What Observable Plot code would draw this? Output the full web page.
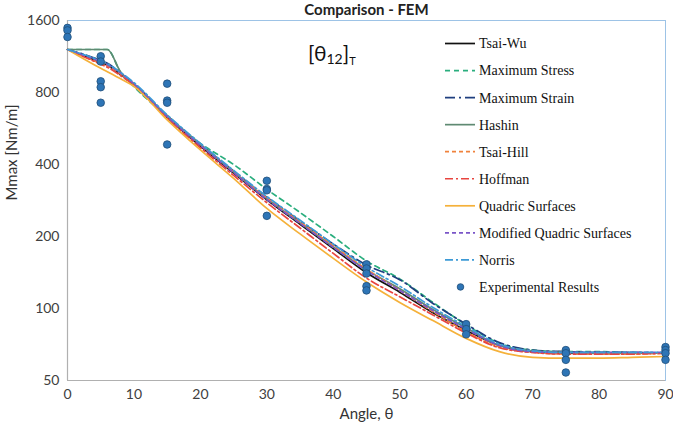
<!DOCTYPE html>
<html>
<head>
<meta charset="utf-8">
<script src="https://cdn.jsdelivr.net/npm/d3@7"></script>
<script src="https://cdn.jsdelivr.net/npm/@observablehq/plot@0.6"></script>
<style>
  body { margin: 0; background: #fff; }
  #chart { position: relative; width: 673px; height: 424px; overflow: hidden; }
</style>
</head>
<body>
<div id="chart"></div>
<script>
// Ply angle (degrees) at which each failure criterion was evaluated
const angles = [0, 5, 6, 8, 10, 15, 20, 25, 30, 35, 40, 45, 50, 55, 60, 65, 70, 75, 80, 85, 90];

// Predicted failure moment Mmax [Nm/m] per criterion
const tsaiWu        = [1210, 1068, 1040, 951, 864, 629, 478, 368, 285, 225, 178, 141, 117, 96, 81, 70, 66, 65, 65, 65, 65];
const maxStress     = [1210, 1210, 1210, 970, 847, 635, 490, 400, 315, 252, 200, 158, 133, 106, 85.5, 71.5, 67, 66, 66, 65.5, 65];
const maxStrain     = [1210, 1090, 1060, 965, 870, 640, 486, 375, 292, 232, 186, 152, 132, 105, 86, 72, 67, 66, 65.5, 65.5, 65];
const hashin        = [1210, 1210, 1210, 975, 855, 640, 484, 372, 288, 228, 181, 145, 121, 99, 83, 70, 66.5, 65.5, 65, 65, 65];
const tsaiHill      = [1210, 1060, 1035, 955, 870, 635, 482, 372, 290, 230, 183, 146, 119, 97, 80, 69, 65.5, 64.5, 64.5, 64.5, 65];
const hoffman       = [1210, 1050, 1020, 940, 860, 625, 470, 360, 277, 217, 170, 134, 112, 94, 79, 68.5, 65.5, 64.5, 64.5, 64.5, 65];
const quadric       = [1210, 1010, 978, 913, 850, 615, 460, 350, 262, 205, 162, 129, 106, 89, 75, 66, 62.5, 62, 62, 62.5, 63];
const modQuadric    = [1210, 1075, 1045, 965, 870, 635, 481, 370, 286, 227, 180, 144, 119, 98, 82, 70, 66, 65.5, 65.5, 65.5, 65.5];
const norris        = [1210, 1085, 1055, 970, 880, 645, 490, 378, 294, 234, 186, 149, 124, 101, 84, 71, 66.5, 65.5, 65.5, 65.5, 65.5];

// Experimental results
const expAngle = [0, 0, 0, 5, 5, 5, 5, 5, 15, 15, 15, 15, 30, 30, 30, 30, 45, 45, 45, 45, 45, 60, 60, 60, 75, 75, 75, 75, 90, 90, 90, 90];
const expValue = [1490, 1455, 1365, 1134, 1078, 891, 842, 725, 871, 740, 725, 485, 342, 316, 312, 244, 153, 147, 140, 124, 119, 86, 82, 78, 67, 65, 61, 54, 69, 67, 65, 61];

// Axis ticks
const xTicks = [0, 10, 20, 30, 40, 50, 60, 70, 80, 90];
const yTicks = [50, 100, 200, 400, 800, 1600];

// Series styling (legend order)
const seriesNames  = ["Tsai-Wu", "Maximum Stress", "Maximum Strain", "Hashin", "Tsai-Hill", "Hoffman", "Quadric Surfaces", "Modified Quadric Surfaces", "Norris"];
const seriesValues = [tsaiWu, maxStress, maxStrain, hashin, tsaiHill, hoffman, quadric, modQuadric, norris];
const seriesColors = ["#111111", "#2aae7e", "#1f3f7f", "#5f8a72", "#f0823c", "#e8453f", "#f5b13a", "#7a55c8", "#3d9ad6"];
const seriesDash   = [null, "5,4", "10,4,2,4", null, "4,3", "8,3,2,3", null, "4,3", "8,3,2,3"];

const expName = "Experimental Results";
const expFill = "#2e75b6";
const expStroke = "#1f4e79";

const lineMarks = seriesNames.map((name, k) =>
  Plot.line(angles, {
    x: d => d,
    y: (d, i) => seriesValues[k][i],
    stroke: seriesColors[k],
    strokeWidth: 1.7,
    strokeDasharray: seriesDash[k] || undefined,
    curve: "monotone-x"
  })
);

const plot = Plot.plot({
  width: 673,
  height: 424,
  marginLeft: 67,
  marginRight: 8,
  marginTop: 20,
  marginBottom: 44,
  style: { fontFamily: "Lato, sans-serif", fontSize: "14px", color: "#404040", background: "#fff" },
  x: { domain: [0, 90], ticks: xTicks, tickSize: 0, tickPadding: 9, label: null },
  y: { type: "log", domain: [50, 1600], axis: null },
  marks: [
    Plot.frame({ stroke: "#9dc3e6" }),
    Plot.ruleX([0], { stroke: "#b0b0b0", strokeWidth: 1.2 }),
    Plot.ruleY([50], { stroke: "#b0b0b0", strokeWidth: 1.2 }),
    // y tick labels
    Plot.text(yTicks, {
      y: d => d, text: d => String(d),
      frameAnchor: "left", dx: -8, textAnchor: "end",
      fontSize: 14, fill: "#404040"
    }),
    ...lineMarks,
    Plot.dot(expAngle, {
      x: d => d,
      y: (d, i) => expValue[i],
      r: 3.8,
      fill: expFill,
      stroke: expStroke,
      strokeWidth: 0.8
    }),
    Plot.text(["Comparison - FEM"], {
      frameAnchor: "top", dy: -6, lineAnchor: "bottom",
      fontSize: 15, fontWeight: "bold", fill: "#222"
    }),
    Plot.text(["Angle, θ"], {
      frameAnchor: "bottom", dy: 34, lineAnchor: "middle",
      fontSize: 15, fill: "#333"
    }),
    Plot.text(["Mmax [Nm/m]"], {
      frameAnchor: "left", dx: -55, rotate: -90,
      fontSize: 15, fill: "#333"
    })
  ]
});

document.getElementById("chart").appendChild(plot);

const svg = d3.select(plot);

// Layup annotation [θ12]T
const ann = svg.append("text")
  .attr("x", 308).attr("y", 60.5)
  .attr("text-anchor", "start")
  .attr("font-family", "Lato, sans-serif")
  .attr("fill", "#111");
ann.append("tspan").attr("font-size", 21).text("[θ");
ann.append("tspan").attr("font-size", 14).attr("dy", 3).text("12");
ann.append("tspan").attr("font-size", 21).attr("dy", -3).text("]");
ann.append("tspan").attr("font-size", 11).attr("dy", 4).text("T");

// Legend
const legend = svg.append("g")
  .attr("text-anchor", "start")
  .attr("font-family", "'Liberation Serif', 'Times New Roman', serif")
  .attr("font-size", 14)
  .attr("fill", "#111");
const rowY = i => 43.5 + i * 27.05;
seriesNames.forEach((name, k) => {
  const y = rowY(k);
  legend.append("line")
    .attr("x1", 445).attr("x2", 475).attr("y1", y).attr("y2", y)
    .attr("stroke", seriesColors[k]).attr("stroke-width", 1.7)
    .attr("stroke-dasharray", seriesDash[k]);
  legend.append("text").attr("x", 479).attr("y", y).attr("dy", "0.35em").text(name);
});
{
  const y = rowY(seriesNames.length);
  legend.append("circle").attr("cx", 460.5).attr("cy", y).attr("r", 3.3)
    .attr("fill", expFill).attr("stroke", expStroke).attr("stroke-width", 0.8);
  legend.append("text").attr("x", 479).attr("y", y).attr("dy", "0.35em").text(expName);
}
</script>
</body>
</html>
